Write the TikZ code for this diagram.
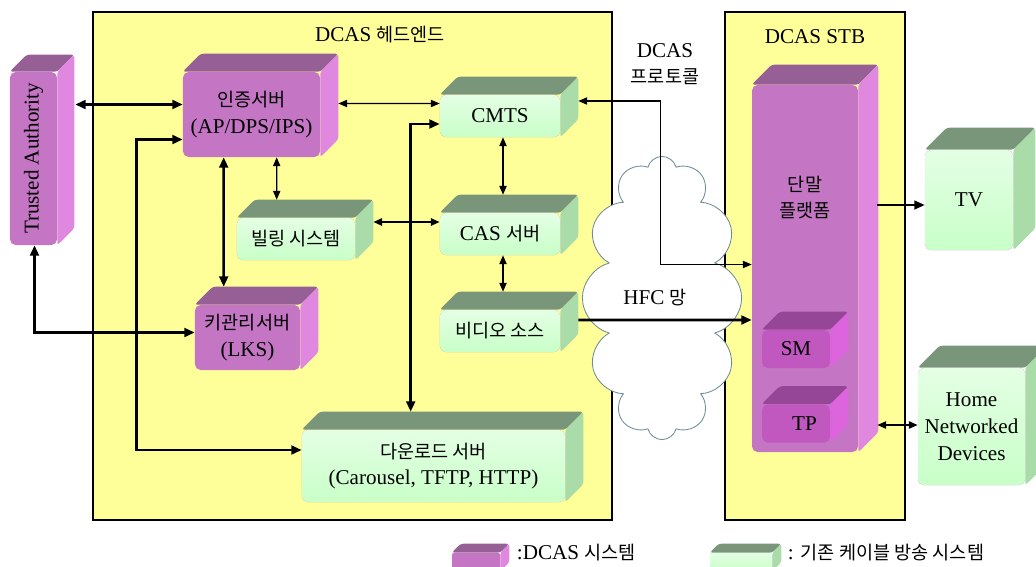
\documentclass[tikz,border=0pt]{standalone}
\usepackage{fontspec}
\setmainfont{Liberation Serif}
\newfontfamily\kr{Noto Sans CJK KR}[Scale=0.88]
\usetikzlibrary{arrows.meta,calc,shapes.symbols,backgrounds}
\definecolor{yc}{RGB}{255,255,153}
\definecolor{pf}{RGB}{196,118,196}
\definecolor{pt}{RGB}{150,96,150}
\definecolor{ps}{RGB}{224,136,224}
\definecolor{mf}{RGB}{192,88,192}
\definecolor{mt}{RGB}{150,70,150}
\definecolor{ms}{RGB}{220,100,220}
\definecolor{gfa}{RGB}{228,255,228}
\definecolor{gfb}{RGB}{200,255,200}
\definecolor{gt}{RGB}{122,150,122}
\definecolor{gs}{RGB}{170,220,170}
\definecolor{cc}{RGB}{110,140,150}
\pgfdeclarelayer{back}\pgfdeclarelayer{face}\pgfsetlayers{back,face,main}
\tikzset{dc/.style={fill=pf,rounded corners=4pt,align=center,inner sep=1pt},
 cb/.style={dc,top color=gfa,bottom color=gfb},chip/.style={dc,fill=mf},
 zone/.style={draw,fill=yc,line width=1.2pt},
 arr/.style={-{Triangle[length=2.6mm,width=2.2mm]},line width=1.8pt},
 dbl/.style={arr,{Triangle[length=2.6mm,width=2.2mm]}-{Triangle[length=2.6mm,width=2.2mm]}},
 lnk/.style={line width=.9pt,{Triangle[length=2.2mm,width=1.8mm]}-{Triangle[length=2.2mm,width=1.8mm]}}}
% top and side faces of a block
\newcommand\faces[4][18]{%
 \fill[#3,rounded corners=2pt] (#2.north west) -- ++(#1,-#1) -- ($(#2.north east)+(#1,-#1)$) -- (#2.north east) -- cycle;
 \fill[#4,rounded corners=2pt] (#2.north east) -- ++(#1,-#1) -- ($(#2.south east)+(#1,-#1)$) -- (#2.south east) -- cycle;}
\newcommand\bevel[4][18]{\begin{pgfonlayer}{face}\faces[#1]{#2}{#3}{#4}\end{pgfonlayer}}
\begin{document}
\begin{tikzpicture}[x=0.025cm,y=-0.025cm,font=\fontsize{15}{19}\selectfont]
\useasboundingbox (0,0) rectangle (1036,566);
\clip (0,0) rectangle (1036,566);
\begin{pgfonlayer}{back}
\node[zone,minimum width=12.975cm,minimum height=12.7cm] (head) at (352.5,266) {};
\node[zone,minimum width=4.5cm,minimum height=12.7cm] (stb) at (815,266) {};
\end{pgfonlayer}
\node (headt) at (380,35) {DCAS {\kr 헤드엔드}};
\node (stbt) at (815,37) {DCAS STB};
\node[align=center] (proto) at (665,64) {DCAS\\{\kr 프로토콜}};
\begin{pgfonlayer}{face}
\node[cloud,cloud puffs=12,cloud ignores aspect,draw=cc,fill=white,line width=.6pt,minimum width=3.98cm,minimum height=7.08cm] (net) at (662,298) {};
\end{pgfonlayer}
\node (hfc) at (655,298) {HFC {\kr 망}};
% DCAS blocks
\node[dc,minimum width=1.175cm,minimum height=4.325cm] (ta) at (33.5,158.5) {\rotatebox{90}{Trusted Authority}};
\bevel[17]{ta}{pt}{ps}
\node[dc,minimum width=3.425cm,minimum height=2.125cm] (auth) at (251.5,114.5) {{\kr 인증서버}\\(AP/DPS/IPS)};
\bevel{auth}{pt}{ps}
\node[dc,minimum width=2.625cm,minimum height=1.625cm] (lks) at (247.5,337.5) {{\kr 키관리서버}\\(LKS)};
\bevel{lks}{pt}{ps}
\node[dc,minimum width=2.65cm,minimum height=9.175cm,label={[align=center,anchor=north,yshift=-2.15cm]north:{\kr 단말}\\{\kr 플랫폼}}] (plat) at (805,268.5) {};
\bevel[20]{plat}{pt}{ps}
\node[chip,minimum width=1.7cm,minimum height=.95cm] (sm) at (796,349) {SM};
\faces{sm}{mt}{ms}
\node[chip,minimum width=1.7cm,minimum height=.95cm] (tp) at (796,423.5) {\hspace{12pt}TP};
\faces{tp}{mt}{ms}
% cable blocks
\node[cb,minimum width=3cm,minimum height=1.05cm] (cmts) at (500,116) {CMTS};
\bevel{cmts}{gt}{gs}
\node[cb,minimum width=2.95cm,minimum height=1.05cm] (bill) at (296,239) {\kr 빌링 시스템};
\bevel{bill}{gt}{gs}
\node[cb,minimum width=3cm,minimum height=1.05cm] (cas) at (500,234) {CAS {\kr 서버}};
\bevel{cas}{gt}{gs}
\node[cb,minimum width=3cm,minimum height=1.05cm] (video) at (500,331) {\kr 비디오 소스};
\bevel{video}{gt}{gs}
\node[cb,minimum width=6.575cm,minimum height=1.8cm] (dl) at (433.5,466) {{\kr 다운로드 서버}\\(Carousel, TFTP, HTTP)};
\bevel{dl}{gt}{gs}
\node[cb,minimum width=2.2cm,minimum height=2.5cm] (tv) at (969,200) {TV};
\bevel[22]{tv}{gt}{gs}
\node[cb,minimum width=2.675cm,minimum height=2.925cm] (home) at (971.5,426.5) {Home\\Networked\\Devices};
\bevel[22]{home}{gt}{gs}
% legend
\node[dc,rounded corners=1pt,minimum width=1.2cm,minimum height=.45cm] (kd) at (476,562) {};
\bevel[9]{kd}{pt}{ps}
\node[anchor=west] (kdt) at (512,553) {:DCAS {\kr 시스템}};
\node[cb,rounded corners=1pt,minimum width=1.55cm,minimum height=.45cm] (kc) at (741,562) {};
\bevel[9]{kc}{gt}{gs}
\node[anchor=west] (kct) at (783,553) {: {\kr 기존 케이블 방송 시스템}};
% links
\draw[dbl] ($(auth.west)+(0,-10)$) -- ($(auth.west-|ta.east)+(18,-10)$);
\draw[dbl] ($(ta.south)+(1,0)$) |- ($(lks.west)+(0,-5)$);
\draw[dbl] ($(auth.west)+(0,25)$) -| ($(dl.west)+(-165,-16)$) -- ($(dl.west)+(0,-16)$);
\draw[dbl] ($(auth.south west)+(41,0)$) -- ($(lks.north west)+(29,-18)$);
\draw[lnk] ($(auth.south west)+(94,0)$) -- ($(bill.north west)+(40,-18)$);
\draw[lnk] ($(auth.east)+(18,-11)$) -- ($(cmts.west)+(0,-12.5)$);
\draw[lnk] ($(cmts.south)+(3,0)$) -- ($(cas.north)+(3,-18)$);
\draw[lnk,line width=1.4pt] ($(bill.east)+(18,-17)$) -- ($(cas.west)+(0,-12)$);
\draw[lnk] ($(cas.south)+(3,0)$) -- ($(video.north)+(3,-18)$);
\draw[dbl] ($(cmts.west)+(0,8)$) -| ($(dl.north west)+(109,-18)$);
\draw[lnk] ($(cmts.east)+(18,-15)$) -- ($(cmts.east)+(100,-15)$) |- ($(plat.west)+(0,-4)$);
\draw[arr] ($(video.east)+(18,-11)$) -- ($(plat.west)+(0,51.5)$);
\draw[arr,line width=1.4pt] ($(plat.east)+(19,-63.5)$) -- ($(tv.west)+(0,5)$);
\draw[lnk,line width=1.2pt] ($(plat.east)+(19,156.5)$) -- ($(home.west)+(0,-1.5)$);
\end{tikzpicture}
\end{document}
